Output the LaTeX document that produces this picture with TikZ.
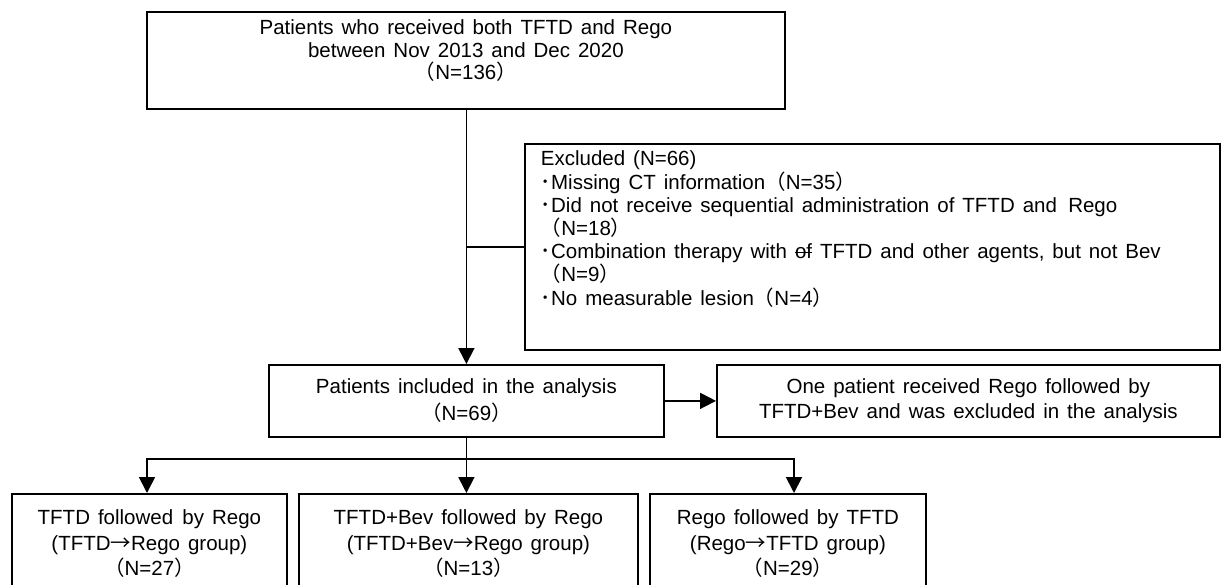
\documentclass[tikz,border=0pt]{standalone}
\usepackage{fontspec}
\setmainfont{Liberation Sans}[WordSpace=1.4]
\newfontfamily\cjk{Noto Sans CJK JP}
\usetikzlibrary{arrows.meta}
\newcommand\flp{{\cjk （}}
\newcommand\frp{{\cjk ）}}
\newcommand\garr{{\cjk →}}
\newcommand\bdot{{\cjk ･}}
\newcommand\strikeof{\rlap{\rule[0.27em]{0.84em}{0.07em}}of}
\begin{document}
\begin{tikzpicture}[x=1pt,y=-1pt,
  box/.style={draw, line width=1.8pt, inner sep=0pt, align=center, anchor=north west},
  conn/.style={line width=1.8pt},
  arr/.style={conn, -{Triangle[length=16pt,width=16pt]}},
  txt/.style={font=\fontsize{20.5}{25.5}\selectfont}]
\path[use as bounding box] (0,0) rectangle (1225,584);
\clip (0,0) rectangle (1225,584);

\node[box] (top) at (146,11) {\parbox[c][97pt][t]{638pt}{\centering\fontsize{20.5}{22.5}\selectfont\rule{0pt}{23pt}Patients who received both TFTD and Rego\\between Nov 2013 and Dec 2020\\\flp N=136\frp}};

\node[box] (exc) at (524,143) {\parbox[c][206pt][t]{695pt}{\raggedright\leftskip=16pt\relax\fontsize{20.5}{23.2}\selectfont\rule{0pt}{22pt}Excluded (N=66)\\
\bdot Missing CT information\flp N=35\frp\\
\bdot Did not receive sequential administration of TFTD and\hspace{0.55em}Rego\\
\flp N=18\frp\\
\bdot Combination therapy with \strikeof{} TFTD and other agents, but not Bev\\
\flp N=9\frp\\
\bdot No measurable lesion\flp N=4\frp}};

\node[box, txt, minimum width=395pt, minimum height=72pt, font=\fontsize{20.5}{27}\selectfont] (inc) at (268,364) {Patients included in the analysis\\\flp N=69\frp};

\node[box, txt, minimum width=503pt, minimum height=72pt, font=\fontsize{20.5}{25}\selectfont] (one) at (716,364) {One patient received Rego followed by\\TFTD+Bev and was excluded in the analysis};

\node[box, txt, minimum width=275pt, minimum height=100pt] (g1) at (11,493) {TFTD followed\hspace{0.45em}by Rego\\(TFTD\garr Rego group)\\\flp N=27\frp};
\node[box, txt, minimum width=339pt, minimum height=100pt] (g2) at (298,493) {TFTD+Bev followed by Rego\\(TFTD+Bev\garr Rego group)\\\flp N=13\frp};
\node[box, txt, minimum width=276pt, minimum height=100pt] (g3) at (649,493) {Rego followed by TFTD\\(Rego\garr TFTD group)\\\flp N=29\frp};

\coordinate (jl) at (147,459);
\coordinate (jr) at (794,459);
\coordinate (jm) at (465.5,459);

\draw[arr] (top.south -| inc.north) -- (inc.north);
\draw[conn] (inc.north |- exc.west) -- (exc.west);
\draw[arr] (inc.east) -- (inc.east -| one.west);
\draw[arr] (inc.south) -- (inc.south |- g2.north);
\draw[arr] (jm) -| (jl |- g1.north);
\draw[arr] (jm) -| (jr |- g3.north);
\end{tikzpicture}
\end{document}
